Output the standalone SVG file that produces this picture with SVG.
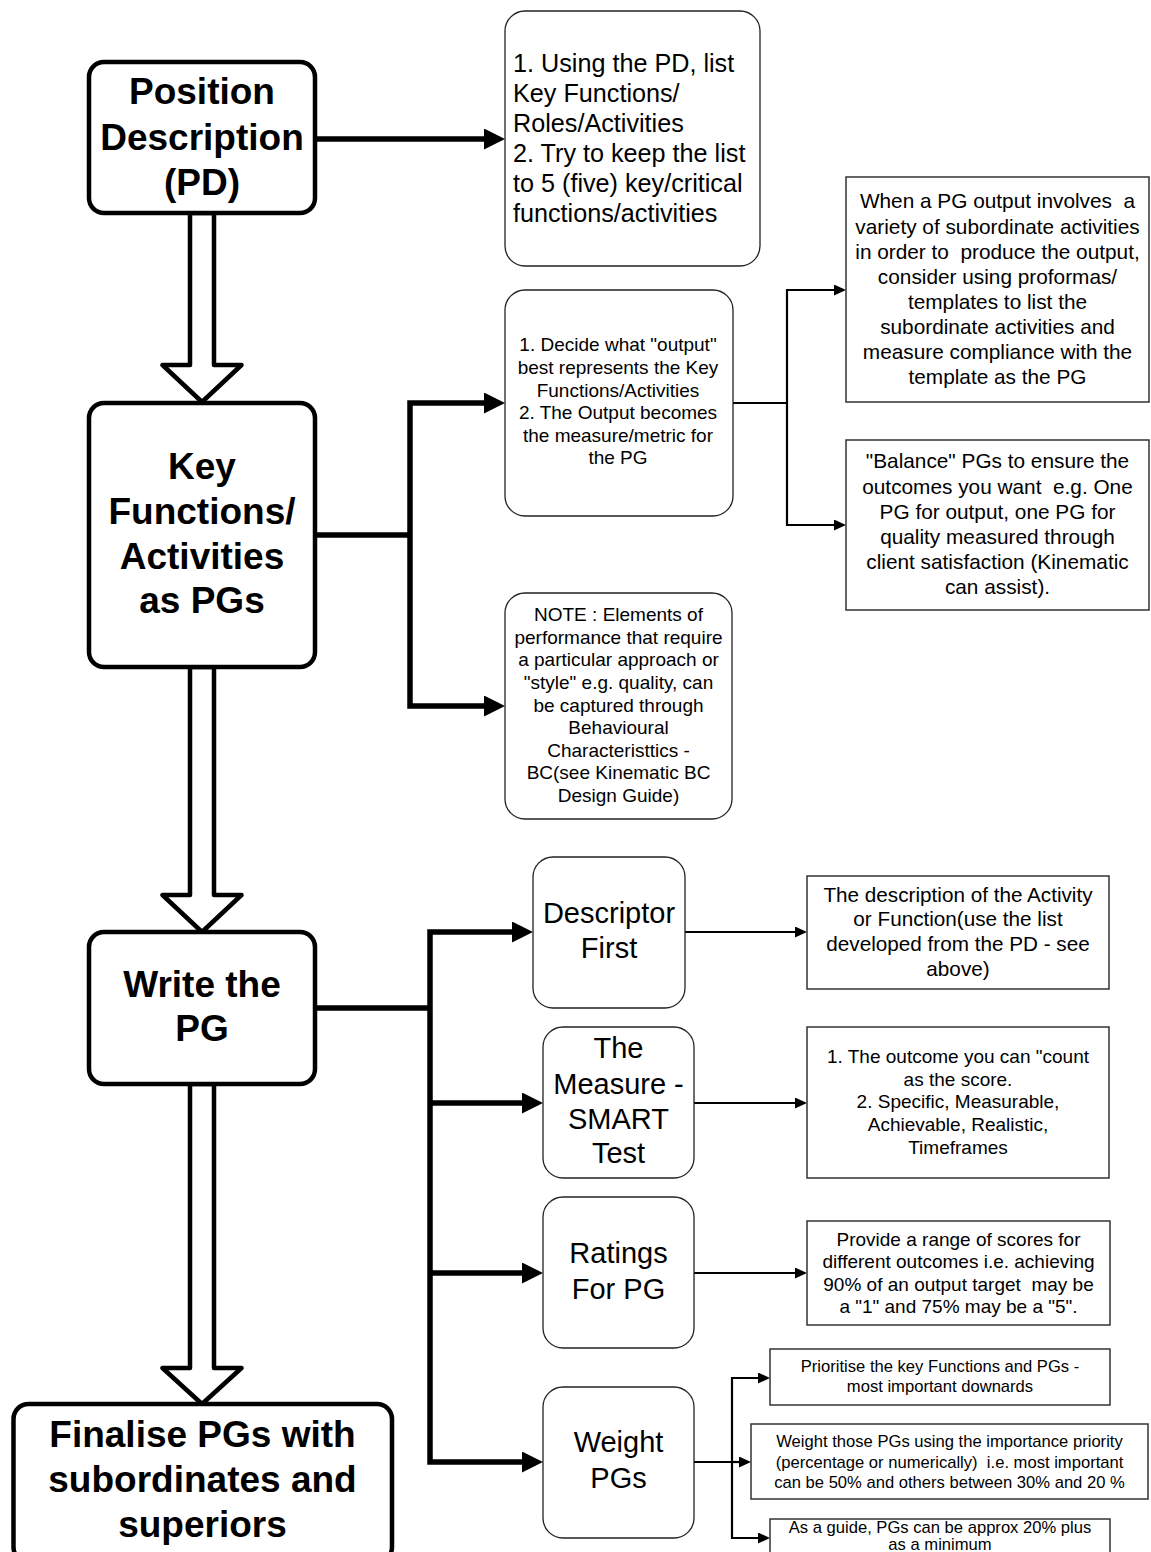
<svg xmlns="http://www.w3.org/2000/svg" width="1151" height="1552" viewBox="0 0 1151 1552">
  <defs>
    <style>
      .big { fill: #fff; stroke: #000; stroke-width: 4.5; }
      .mid { fill: #fff; stroke: #222; stroke-width: 1.3; }
      .sq { fill: #fff; stroke: #333; stroke-width: 1.5; }
      .hollow { fill: #fff; stroke: #000; stroke-width: 4.5; stroke-linejoin: round; }
      .thick { fill: none; stroke: #000; stroke-width: 5.5; }
      .thin { fill: none; stroke: #000; stroke-width: 2.2; }
      text { font-family: "Liberation Sans", Arial, sans-serif; fill: #000; text-anchor: middle; white-space: pre; }
      .tb { font-size: 37px; font-weight: bold; }
      .t29 { font-size: 29px; }
      .t25 { font-size: 25.2px; text-anchor: start; }
      .t21 { font-size: 20.8px; }
      .t20 { font-size: 20.7px; }
      .t19 { font-size: 19px; }
      .t16 { font-size: 16.6px; }
    </style>
    <marker id="headL" markerUnits="userSpaceOnUse" markerWidth="22" markerHeight="22" refX="1" refY="10.5" orient="auto-start-reverse">
      <path d="M0,0 L21,10.5 L0,21 z" fill="#000"/>
    </marker>
    <marker id="headS" markerUnits="userSpaceOnUse" markerWidth="13" markerHeight="12" refX="1" refY="5.5" orient="auto-start-reverse">
      <path d="M0,0 L12,5.5 L0,11 z" fill="#000"/>
    </marker>
  </defs>

  <!-- hollow block arrows down the main flow -->
  <g id="flow-arrows">
    <polygon class="hollow" points="190,213 214,213 214,365 241.5,365 202,402 162.5,365 190,365"/>
    <polygon class="hollow" points="190,667 214,667 214,895 241.5,895 202,932 162.5,895 190,895"/>
    <polygon class="hollow" points="190,1084 214,1084 214,1368 241.5,1368 202,1404 162.5,1368 190,1368"/>
  </g>

  <!-- connectors -->
  <g id="connectors">
    <path class="thick" d="M315,139 H485" marker-end="url(#headL)"/>
    <path class="thick" d="M315,535 H410"/>
    <path class="thick" d="M485,403 H410 V706 H485" marker-start="url(#headL)" marker-end="url(#headL)"/>

    <path class="thin" d="M733,403 H787"/>
    <path class="thin" d="M835,290 H787 V525 H835" marker-start="url(#headS)" marker-end="url(#headS)"/>

    <path class="thick" d="M315,1008 H430"/>
    <path class="thick" d="M513,932 H430 V1462 H523" marker-start="url(#headL)" marker-end="url(#headL)"/>
    <path class="thick" d="M430,1103 H523" marker-end="url(#headL)"/>
    <path class="thick" d="M430,1273 H523" marker-end="url(#headL)"/>

    <path class="thin" d="M685,932 H796" marker-end="url(#headS)"/>
    <path class="thin" d="M694,1103 H796" marker-end="url(#headS)"/>
    <path class="thin" d="M694,1273 H796" marker-end="url(#headS)"/>

    <path class="thin" d="M694,1462 H732"/>
    <path class="thin" d="M759,1378 H732 V1538 H759" marker-start="url(#headS)" marker-end="url(#headS)"/>
    <path class="thin" d="M732,1462 H740" marker-end="url(#headS)"/>
  </g>

  <!-- main flow -->
  <g id="position-description">
    <rect class="big" x="89" y="62" width="226" height="151" rx="15"/>
    <text class="tb" x="202" y="104">Position</text>
    <text class="tb" x="202" y="150">Description</text>
    <text class="tb" x="202" y="195">(PD)</text>
  </g>

  <g id="key-functions">
    <rect class="big" x="89" y="403" width="226" height="264" rx="15"/>
    <text class="tb" x="202" y="479">Key</text>
    <text class="tb" x="202" y="524">Functions/</text>
    <text class="tb" x="202" y="569">Activities</text>
    <text class="tb" x="202" y="613">as PGs</text>
  </g>

  <g id="write-pg">
    <rect class="big" x="89" y="932" width="226" height="152" rx="15"/>
    <text class="tb" x="202" y="997">Write the</text>
    <text class="tb" x="202" y="1041">PG</text>
  </g>

  <g id="finalise">
    <rect class="big" x="13.5" y="1404" width="378.5" height="158" rx="15"/>
    <text class="tb" x="202.5" y="1447">Finalise PGs with</text>
    <text class="tb" x="202.5" y="1492">subordinates and</text>
    <text class="tb" x="202.5" y="1537">superiors</text>
  </g>

  <!-- notes on the position description -->
  <g id="list-functions">
    <rect class="mid" x="505" y="11" width="255" height="255" rx="20"/>
    <text class="t25" x="513" y="71.5">1. Using the PD, list</text>
    <text class="t25" x="513" y="101.5">Key Functions/</text>
    <text class="t25" x="513" y="131.5">Roles/Activities</text>
    <text class="t25" x="513" y="161.5">2. Try to keep the list</text>
    <text class="t25" x="513" y="191.5">to 5 (five) key/critical</text>
    <text class="t25" x="513" y="221.5">functions/activities</text>
  </g>

  <g id="decide-output">
    <rect class="mid" x="505" y="290" width="228" height="226" rx="20"/>
    <text class="t19" x="618" y="351">1. Decide what "output"</text>
    <text class="t19" x="618" y="374">best represents the Key</text>
    <text class="t19" x="618" y="396.5">Functions/Activities</text>
    <text class="t19" x="618" y="419">2. The Output becomes</text>
    <text class="t19" x="618" y="441.5">the measure/metric for</text>
    <text class="t19" x="618" y="464">the PG</text>
  </g>

  <g id="behavioural-note">
    <rect class="mid" x="505" y="593" width="227" height="226" rx="20"/>
    <text class="t19" x="618.5" y="621">NOTE : Elements of</text>
    <text class="t19" x="618.5" y="643.5">performance that require</text>
    <text class="t19" x="618.5" y="666">a particular approach or</text>
    <text class="t19" x="618.5" y="689">"style" e.g. quality, can</text>
    <text class="t19" x="618.5" y="711.5">be captured through</text>
    <text class="t19" x="618.5" y="734">Behavioural</text>
    <text class="t19" x="618.5" y="756.5">Characteristtics -</text>
    <text class="t19" x="618.5" y="779">BC(see Kinematic BC</text>
    <text class="t19" x="618.5" y="802">Design Guide)</text>
  </g>

  <g id="templates">
    <rect class="sq" x="846" y="177" width="303" height="225"/>
    <text class="t21" x="997.5" y="208">When a PG output involves  a</text>
    <text class="t21" x="997.5" y="233.5">variety of subordinate activities</text>
    <text class="t21" x="997.5" y="258.5">in order to  produce the output,</text>
    <text class="t21" x="997.5" y="283.5">consider using proformas/</text>
    <text class="t21" x="997.5" y="308.5">templates to list the</text>
    <text class="t21" x="997.5" y="333.5">subordinate activities and</text>
    <text class="t21" x="997.5" y="358.5">measure compliance with the</text>
    <text class="t21" x="997.5" y="383.5">template as the PG</text>
  </g>

  <g id="balance">
    <rect class="sq" x="846" y="440" width="303" height="170"/>
    <text class="t21" x="997.5" y="468">"Balance" PGs to ensure the</text>
    <text class="t21" x="997.5" y="493.5">outcomes you want  e.g. One</text>
    <text class="t21" x="997.5" y="518.5">PG for output, one PG for</text>
    <text class="t21" x="997.5" y="543.5">quality measured through</text>
    <text class="t21" x="997.5" y="568.5">client satisfaction (Kinematic</text>
    <text class="t21" x="997.5" y="594">can assist).</text>
  </g>

  <!-- parts of a PG -->
  <g id="descriptor-first">
    <rect class="mid" x="533" y="857" width="152" height="151" rx="20"/>
    <text class="t29" x="609" y="923">Descriptor</text>
    <text class="t29" x="609" y="958">First</text>
  </g>

  <g id="smart-measure">
    <rect class="mid" x="543" y="1027" width="151" height="151" rx="20"/>
    <text class="t29" x="618.5" y="1058">The</text>
    <text class="t29" x="618.5" y="1094">Measure -</text>
    <text class="t29" x="618.5" y="1129">SMART</text>
    <text class="t29" x="618.5" y="1163">Test</text>
  </g>

  <g id="ratings">
    <rect class="mid" x="543" y="1197" width="151" height="151" rx="20"/>
    <text class="t29" x="618.5" y="1263">Ratings</text>
    <text class="t29" x="618.5" y="1299">For PG</text>
  </g>

  <g id="weight">
    <rect class="mid" x="543" y="1387" width="151" height="151" rx="20"/>
    <text class="t29" x="618.5" y="1452">Weight</text>
    <text class="t29" x="618.5" y="1488">PGs</text>
  </g>

  <g id="descriptor-note">
    <rect class="sq" x="807" y="876" width="302" height="113"/>
    <text class="t20" x="958" y="902">The description of the Activity</text>
    <text class="t20" x="958" y="926">or Function(use the list</text>
    <text class="t20" x="958" y="951">developed from the PD - see</text>
    <text class="t20" x="958" y="976">above)</text>
  </g>

  <g id="measure-note">
    <rect class="sq" x="807" y="1027" width="302" height="151"/>
    <text class="t19" x="958" y="1063">1. The outcome you can "count</text>
    <text class="t19" x="958" y="1085.5">as the score.</text>
    <text class="t19" x="958" y="1108">2. Specific, Measurable,</text>
    <text class="t19" x="958" y="1131">Achievable, Realistic,</text>
    <text class="t19" x="958" y="1154">Timeframes</text>
  </g>

  <g id="ratings-note">
    <rect class="sq" x="807" y="1221" width="303" height="104"/>
    <text class="t19" x="958.5" y="1245.5">Provide a range of scores for</text>
    <text class="t19" x="958.5" y="1268">different outcomes i.e. achieving</text>
    <text class="t19" x="958.5" y="1290.5">90% of an output target  may be</text>
    <text class="t19" x="958.5" y="1313">a "1" and 75% may be a "5".</text>
  </g>

  <g id="prioritise">
    <rect class="sq" x="770" y="1349" width="340" height="56"/>
    <text class="t16" x="940" y="1372">Prioritise the key Functions and PGs -</text>
    <text class="t16" x="940" y="1392">most important downards</text>
  </g>

  <g id="weighting">
    <rect class="sq" x="751" y="1424" width="397" height="75"/>
    <text class="t16" x="949.5" y="1447">Weight those PGs using the importance priority</text>
    <text class="t16" x="949.5" y="1468">(percentage or numerically)  i.e. most important</text>
    <text class="t16" x="949.5" y="1488">can be 50% and others between 30% and 20 %</text>
  </g>

  <g id="minimum">
    <rect class="sq" x="770" y="1519" width="340" height="50"/>
    <text class="t16" x="940" y="1533">As a guide, PGs can be approx 20% plus</text>
    <text class="t16" x="940" y="1550">as a minimum</text>
  </g>
</svg>
